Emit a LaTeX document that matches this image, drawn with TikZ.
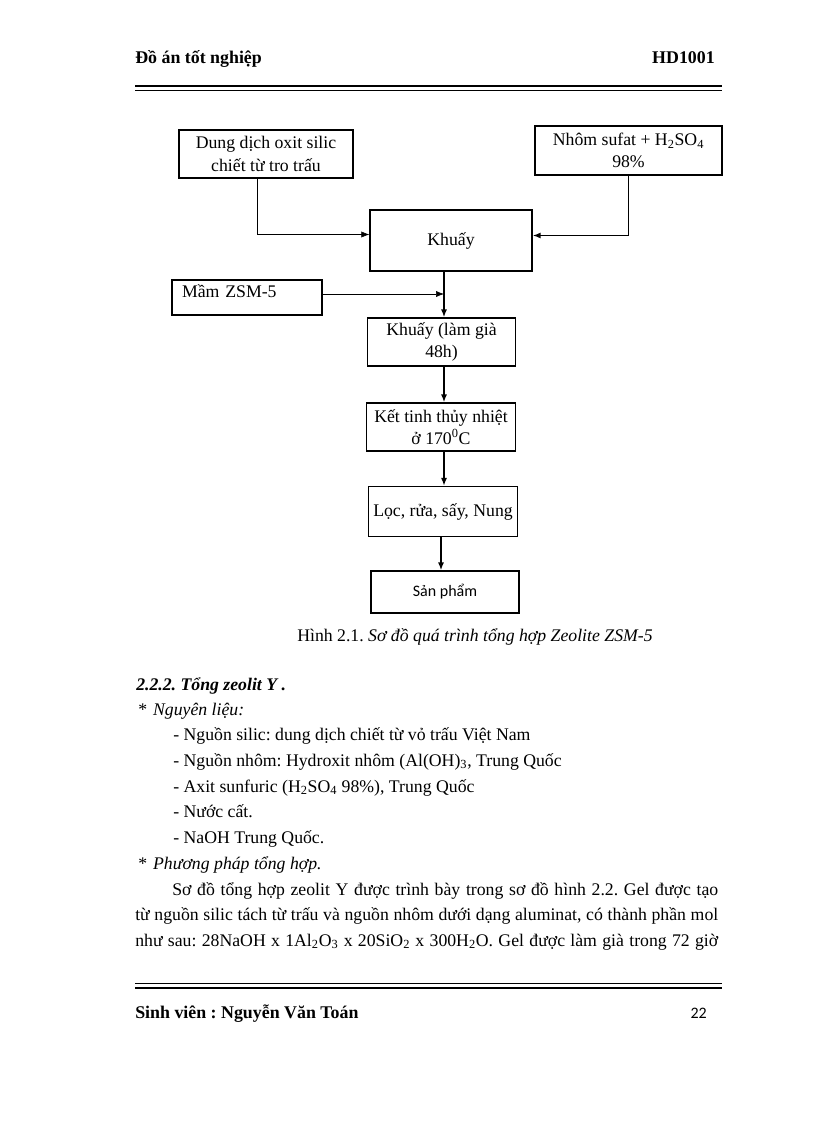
\documentclass[tikz,border=0pt]{standalone}
\usepackage{fontspec}
\setmainfont{Liberation Serif}
\newfontfamily\calibri{Carlito}
\frenchspacing
\usetikzlibrary{arrows.meta}
\usetikzlibrary{calc}

\begin{document}
\begin{tikzpicture}[x=0.75pt,y=-0.75pt,>={Latex[length=6pt,width=4.6pt]},every node/.style={font=\fontsize{13.3}{17}\selectfont},box/.style 2 args={draw,line width=1pt,align=center,inner sep=0pt,minimum width=#1*0.75pt,minimum height=#2*0.75pt},flow/.style={->,line width=1.1pt},txt/.style={anchor=base west,inner sep=0pt}]

	\useasboundingbox (0,0) rectangle (816,1123);

	% header
	\node[txt,font=\fontsize{13.4}{17}\selectfont\bfseries] (head) at (135,64) {Đồ án tốt nghiệp};
	\node[txt,anchor=base east,font=\fontsize{13.4}{17}\selectfont\bfseries] (code) at (715,64) {HD1001};
	\draw[line width=2.2pt] (135,86) -- (722,86);
	\draw[line width=0.75pt] (135,91) -- (722,91);

	% flow chart
	\node[box={174}{48}] (silic) at (266,154) {Dung dịch oxit silic\\chiết từ tro trấu};
	\node[box={187}{49}] (nhom) at (628.5,150.5) {Nhôm sufat + H\textsubscript{2}SO\textsubscript{4}\\98\%};
	\node[box={162}{61}] (khuay) at (451,240.5) {Khuấy};
	\node[box={150}{35},align=left,text width=130*0.75pt,text height=9pt,text depth=9pt] (mam) at (247,297.5) {Mầm ZSM-5};
	\node[box={148}{48}] (lamgia) at (441.5,342) {Khuấy (làm già\\48h)};
	\node[box={149}{48}] (kettinh) at (441,427) {Kết tinh thủy nhiệt\\ở 170\textsuperscript{0}C};
	\node[box={149}{50}] (loc) at (443,511.5) {Lọc, rửa, sấy, Nung};
	\node[box={148}{42},font=\calibri\fontsize{12}{14}\selectfont] (sp) at (445,592) {Sản phẩm};
	\coordinate (j1) at (444,294);

	\draw[->,thin] ($(silic.south)+(-9,0)$) |- ($(khuay.west)+(0,-6)$);
	\draw[->,line width=1.2pt] (nhom.south) |- ($(khuay.east)+(0,-5)$);
	\draw[flow] (khuay.south -| j1) -- (lamgia.north -| j1);
	\draw[->,thin] (mam.east |- j1) -- (j1);
	\draw[flow] (lamgia.south -| j1) -- (kettinh.north -| j1);
	\draw[flow] (kettinh.south -| j1) -- (loc.north -| j1);
	\draw[flow] ($(loc.south)+(-2,0)$) -- ($(loc.south |- sp.north)+(-2,0)$);

	\node[txt] (cap) at (297,641) {Hình 2.1. \textit{Sơ đồ quá trình tổng hợp Zeolite ZSM-5}};

	% text
	\node[txt,font=\fontsize{13.3}{17}\selectfont\bfseries\itshape] (sec) at (136,690) {2.2.2. Tổng zeolit Y .};
	\node[txt] (nl) at (138,715) {*\hspace{4.5pt}\textit{Nguyên liệu:}};
	\node[txt] (l1) at (173,740) {- Nguồn silic: dung dịch chiết từ vỏ trấu Việt Nam};
	\node[txt] (l2) at (173,766) {- Nguồn nhôm: Hydroxit nhôm (Al(OH)\textsubscript{3}, Trung Quốc};
	\node[txt] (l3) at (173,792) {- Axit sunfuric (H\textsubscript{2}SO\textsubscript{4} 98\%), Trung Quốc};
	\node[txt] (l4) at (173,817) {- Nước cất.};
	\node[txt] (l5) at (173,843) {- NaOH Trung Quốc.};
	\node[txt] (pp) at (138,869) {*\hspace{4.5pt}\textit{Phương pháp tổng hợp.}};
	\node[txt] (p1) at (172,895) {\makebox[409.5pt][s]{Sơ đồ tổng hợp zeolit Y được trình bày trong sơ đồ hình 2.2. Gel được tạo}};
	\node[txt] (p2) at (135,920) {\makebox[437.25pt][s]{từ nguồn silic tách từ trấu và nguồn nhôm dưới dạng aluminat, có thành phần mol}};
	\node[txt] (p3) at (135,946) {\makebox[437.25pt][s]{như sau: 28NaOH x 1Al\textsubscript{2}O\textsubscript{3} x 20SiO\textsubscript{2} x 300H\textsubscript{2}O. Gel được làm già trong 72 giờ}};

	% footer
	\draw[line width=0.75pt] (135,983) -- (722,983);
	\draw[line width=2.2pt] (135,988) -- (722,988);
	\node[txt,font=\fontsize{13.4}{17}\selectfont\bfseries] (sv) at (135,1018) {Sinh viên : Nguyễn Văn Toán};
	\node[txt,anchor=base east,font=\calibri\fontsize{12}{14}\selectfont] (page) at (707,1018) {22};

\end{tikzpicture}
\end{document}
